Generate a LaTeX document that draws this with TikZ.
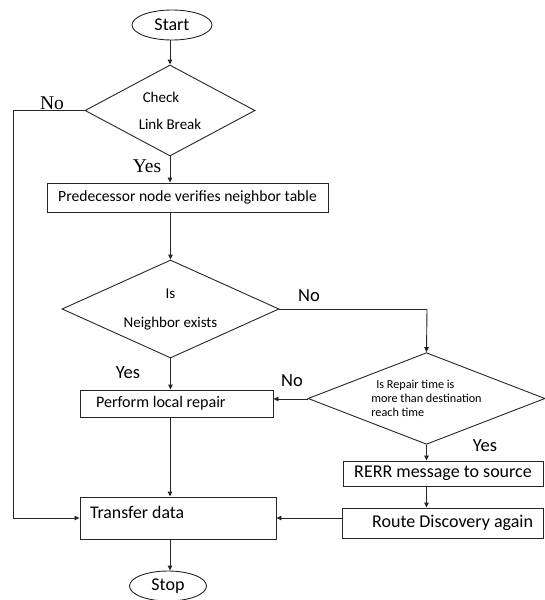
\documentclass[tikz,border=0pt]{standalone}
\usepackage{fontspec}
\setmainfont{Carlito}
\newfontfamily\seriflab{Liberation Serif}
\usetikzlibrary{shapes.geometric,arrows.meta}
\begin{document}
\begin{tikzpicture}[x=1pt,y=-1pt,
  ln/.style={draw=black!85, line width=0.9pt},
  arr/.style={ln, -{Triangle[length=5pt,width=4.5pt]}},
  boxnode/.style={draw=black!85, line width=0.9pt, rectangle, inner sep=0pt},
  term/.style={draw=black!85, line width=0.9pt, ellipse, inner sep=0pt},
  dia/.style={draw=black!85, line width=0.9pt, diamond, aspect=2, inner sep=0pt},
  seriflabel/.style={font=\seriflab\fontsize{19.5}{22}\selectfont, inner sep=0pt},
  sanslabel/.style={font=\fontsize{18.5}{21}\selectfont, inner sep=0pt}]
\useasboundingbox (0,0) rectangle (545,600);

% nodes
\node[term, minimum width=80pt, minimum height=30pt, font=\fontsize{18}{20}\selectfont] (start) at (172,25) {Start};
\node[dia, minimum width=170pt, minimum height=91pt, align=flush left, font=\fontsize{15}{17}\selectfont] (d1) at (170,110.5) {\hspace*{4pt}Check\\[10pt]Link Break};
\node[boxnode, minimum width=281pt, minimum height=29pt, font=\fontsize{15.6}{18}\selectfont] (b1) at (187.5,197.5) {Predecessor node verifies neighbor table};
\node[dia, minimum width=217pt, minimum height=98pt, align=center, font=\fontsize{15}{17}\selectfont] (d2) at (170.5,309) {Is\\[12pt]Neighbor exists};
\node[boxnode, inner xsep=16pt, minimum height=27pt, font=\fontsize{16.1}{18}\selectfont] (b2) at (176.5,403.5) {\makebox[161pt][l]{Perform local repair}};
\node[dia, minimum width=237pt, minimum height=87pt, align=flush left, font=\fontsize{12.2}{14}\selectfont] (d3) at (426.5,398.5) {\hspace*{5pt}Is Repair time is\\more than destination\\reach time};
\node[boxnode, minimum width=200pt, minimum height=25pt, font=\fontsize{18}{20}\selectfont] (rerr) at (443,473.5) {RERR message to source};
\node[boxnode, inner xsep=10pt, minimum height=30pt, font=\fontsize{18}{20}\selectfont] (route) at (442.5,523) {\makebox[181pt][r]{Route Discovery again}};
\node[boxnode, inner xsep=5pt, minimum height=42pt, text height=12pt, text depth=12pt, font=\fontsize{17.8}{20}\selectfont] (transfer) at (178,518) {\makebox[186pt][l]{\hspace*{5pt}Transfer data}};
\node[term, minimum width=77pt, minimum height=30pt, font=\fontsize{18}{20}\selectfont] (stop) at (168,586) {Stop};

\coordinate (loopTop) at (13,110.5);
\coordinate (loopBot) at (13,518);
\coordinate (rightTurn) at (427,309);

% connectors
\draw[arr] (start.south -| d1.north) -- (d1.north);
\draw[arr] (d1.south) -- (d1.south |- b1.north);
\draw[arr] (d1.west) -- (loopTop) -- (loopBot) -- (loopBot -| transfer.west);
\draw[arr] (b1.south -| d2.north) -- (d2.north);
\draw[arr] (d2.south) -- (d2.south |- b2.north);
\draw[ln] (d2.east) -- (rightTurn);
\draw[arr] (rightTurn) -- (d3.north);
\draw[arr] ([yshift=-0.5pt]d3.west) -- ([yshift=-0.5pt]d3.west -| b2.east);
\draw[arr] (d3.south) -- (d3.south |- rerr.north);
\draw[arr] (rerr.south -| d3.south) -- (route.north -| d3.south);
\draw[arr] ([yshift=5pt]route.west) -- ([yshift=5pt]route.west -| transfer.east);
\draw[arr] (b2.south -| d1.south) -- (transfer.north -| d1.south);
\draw[arr] (transfer.south -| d1.south) -- (stop.north -| d1.south);

% labels
\node[seriflabel] (lno1) at (52,103) {No};
\node[seriflabel] (lyes1) at (147,166) {Yes};
\node[sanslabel] (lno2) at (309,296) {No};
\node[sanslabel] (lyes2) at (128,373) {Yes};
\node[sanslabel] (lno3) at (292,381) {No};
\node[sanslabel] (lyes3) at (485,446) {Yes};
\end{tikzpicture}
\end{document}
